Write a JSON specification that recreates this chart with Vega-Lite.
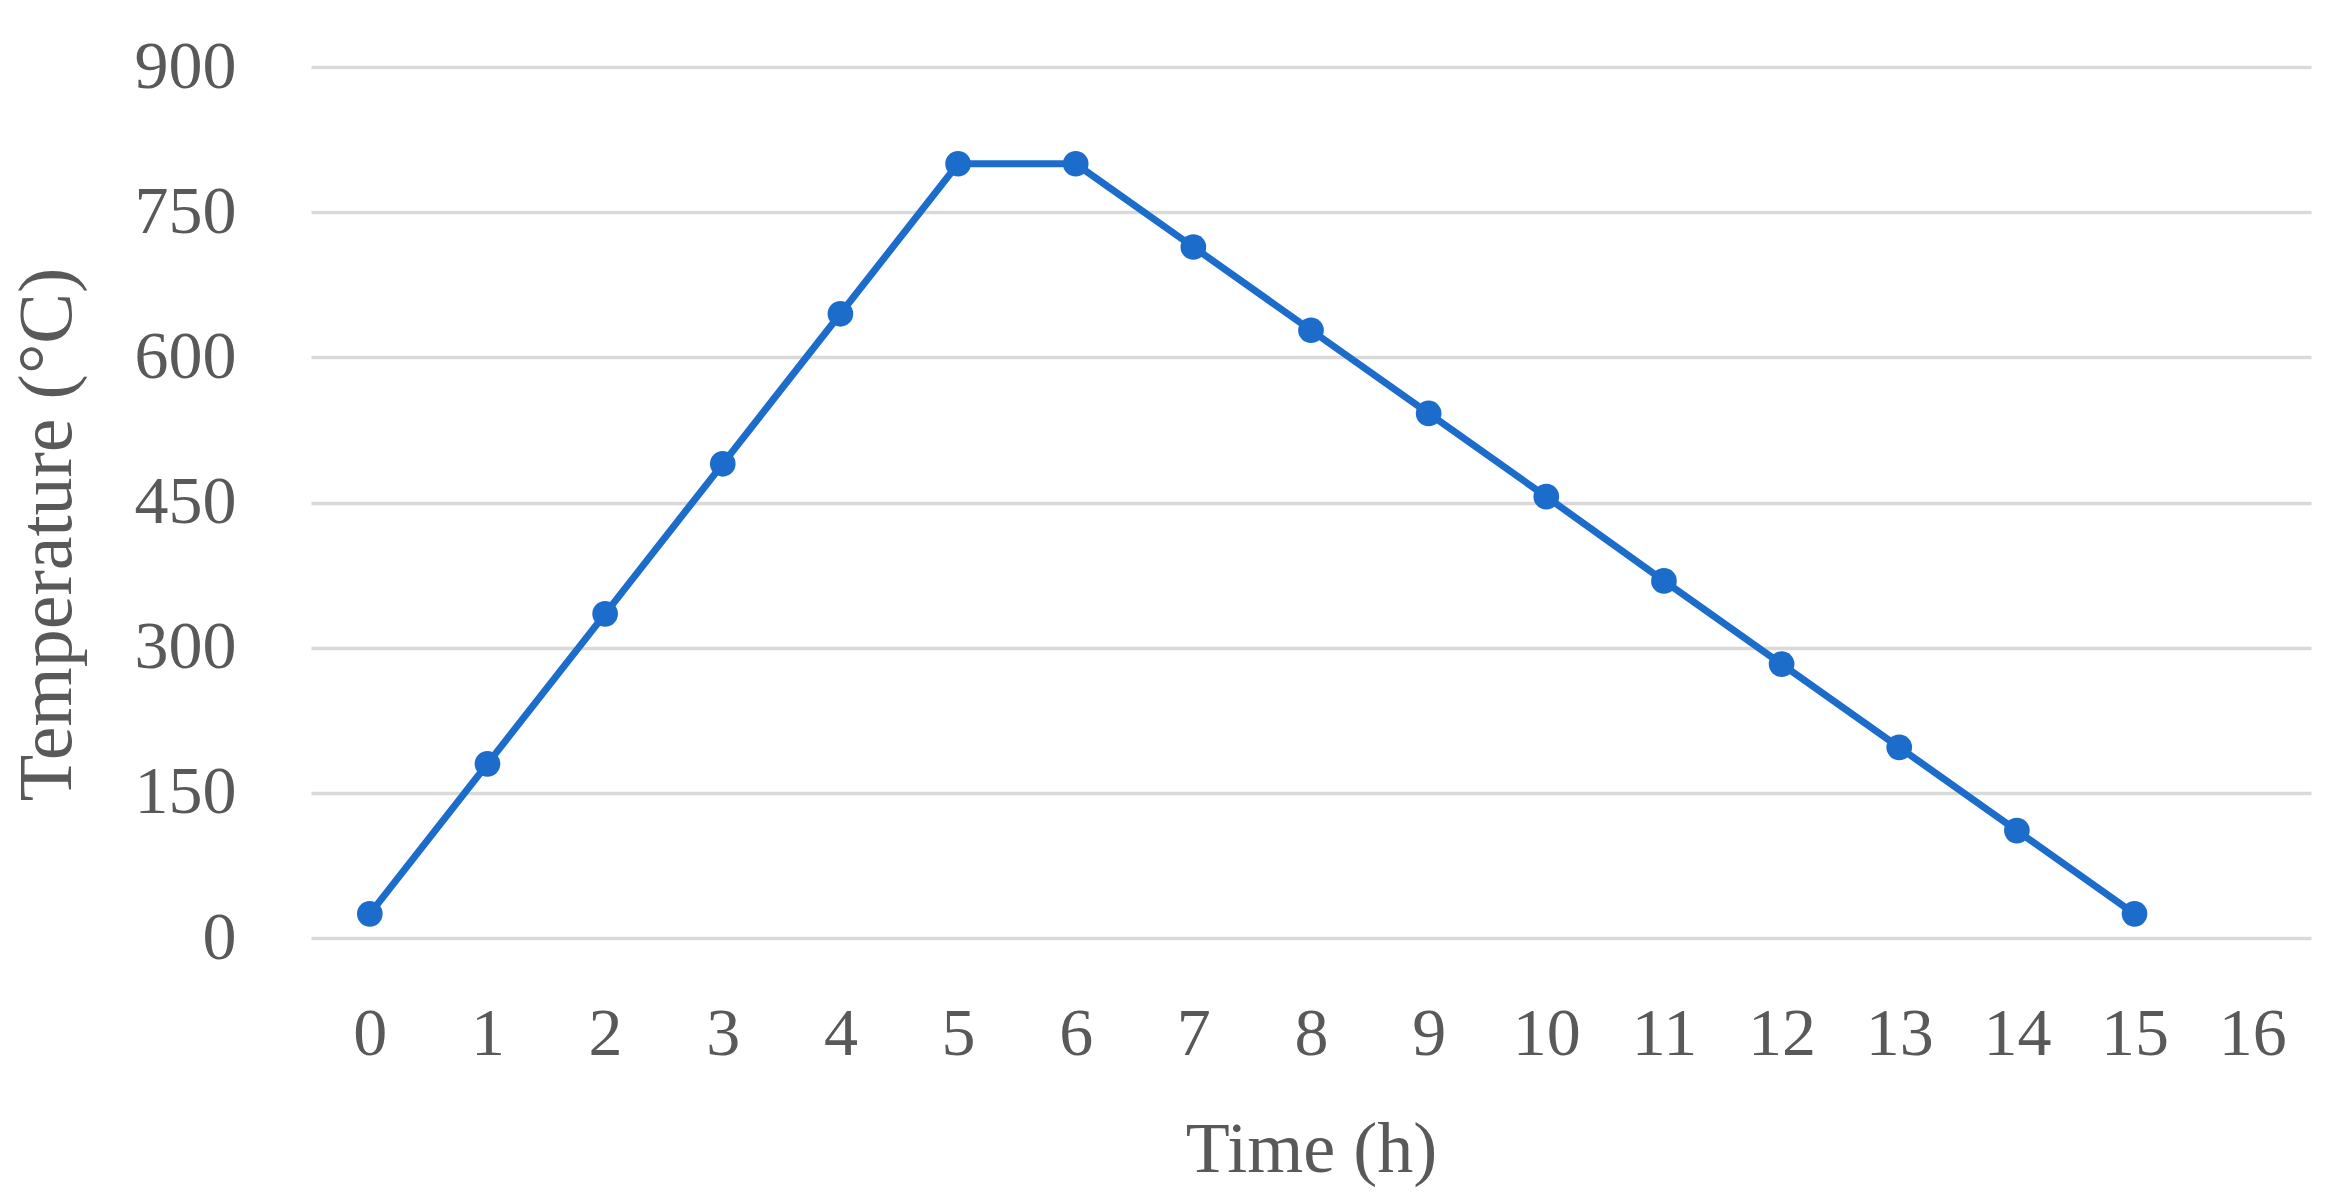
{
  "$schema": "https://vega.github.io/schema/vega-lite/v6.json",
  "autosize": {"type": "none"},
  "width": 2000,
  "height": 871,
  "padding": {"left": 311, "top": 67, "right": 34, "bottom": 263},
  "background": "white",
  "config": {
    "view": {"stroke": null},
    "font": "Liberation Serif",
    "axis": {"labelFont": "Liberation Serif", "titleFont": "Liberation Serif", "labelColor": "#595959", "titleColor": "#595959", "titleFontWeight": "normal"}
  },
  "data": {
    "values": [
      {"time": 0, "temp": 25},
      {"time": 1, "temp": 180},
      {"time": 2, "temp": 335},
      {"time": 3, "temp": 490},
      {"time": 4, "temp": 645},
      {"time": 5, "temp": 800},
      {"time": 6, "temp": 800},
      {"time": 7, "temp": 714},
      {"time": 8, "temp": 628},
      {"time": 9, "temp": 542},
      {"time": 10, "temp": 456},
      {"time": 11, "temp": 369},
      {"time": 12, "temp": 283},
      {"time": 13, "temp": 197},
      {"time": 14, "temp": 111},
      {"time": 15, "temp": 25}
    ]
  },
  "encoding": {
    "x": {
      "field": "time", "type": "quantitative",
      "scale": {"domain": [-0.5, 16.5], "nice": false, "zero": false},
      "axis": {
        "title": "Time (h)", "values": [0,1,2,3,4,5,6,7,8,9,10,11,12,13,14,15,16],
        "grid": false, "domain": false, "ticks": false,
        "labelFontSize": 68, "labelPadding": 62, "titleFontSize": 72, "titlePadding": 46
      }
    },
    "y": {
      "field": "temp", "type": "quantitative",
      "scale": {"domain": [0, 900], "nice": false},
      "axis": {
        "title": "Temperature (°C)", "values": [0,150,300,450,600,750,900],
        "grid": true, "gridColor": "#d9d9d9", "gridWidth": 3.5,
        "domain": false, "ticks": false,
        "labelFontSize": 68, "labelPadding": 75, "titleFontSize": 76, "titlePadding": 48,
        "titleY": 467
      }
    }
  },
  "layer": [
    {"mark": {"type": "line", "color": "#1c6dcb", "strokeWidth": 7}},
    {"mark": {"type": "point", "shape": "circle", "filled": true, "opacity": 1, "color": "#1c6dcb", "size": 660}}
  ]
}
